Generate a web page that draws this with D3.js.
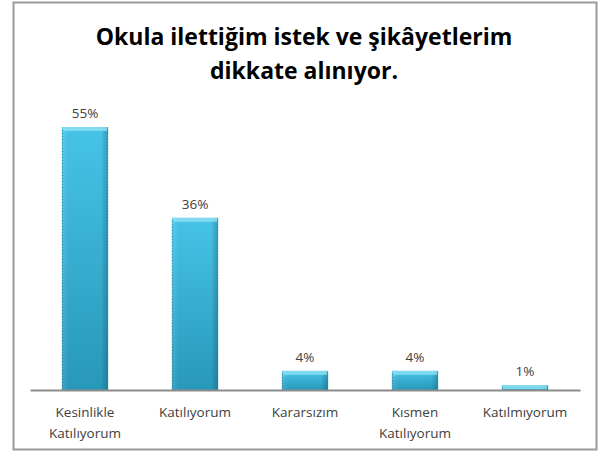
<!DOCTYPE html>
<html><head><meta charset="utf-8">
<script src="https://cdn.jsdelivr.net/npm/d3@7/dist/d3.min.js"></script>
<style>body{margin:0;background:#fff}svg{display:block}text{font-variant-ligatures:none}</style>
</head><body>
<script>
const categories = [["Kesinlikle","Katılıyorum"],["Katılıyorum"],["Kararsızım"],["Kısmen","Katılıyorum"],["Katılmıyorum"]];
const values = [55, 36, 4, 4, 1];
const valueLabels = ["55%","36%","4%","4%","1%"];
const titleLines = ["Okula ilettiğim istek ve şikâyetlerim","dikkate alınıyor."];

const W = 598, H = 452;
const svg = d3.select("body").append("svg").attr("width", W).attr("height", H);
const defs = svg.append("defs");
const g1 = defs.append("linearGradient").attr("id","barV").attr("x1",0).attr("y1",0).attr("x2",0).attr("y2",1);
g1.append("stop").attr("offset","0%").attr("stop-color","#46c3e7");
g1.append("stop").attr("offset","100%").attr("stop-color","#2898b9");
const g2 = defs.append("linearGradient").attr("id","barH").attr("x1",0).attr("y1",0).attr("x2",1).attr("y2",0);
g2.append("stop").attr("offset","0%").attr("stop-color","#ffffff").attr("stop-opacity",0.12);
g2.append("stop").attr("offset","15%").attr("stop-color","#ffffff").attr("stop-opacity",0.0);
g2.append("stop").attr("offset","85%").attr("stop-color","#000000").attr("stop-opacity",0.0);
g2.append("stop").attr("offset","100%").attr("stop-color","#003040").attr("stop-opacity",0.25);

svg.append("rect").attr("x",13.5).attr("y",2.5).attr("width",583).attr("height",447)
  .attr("fill","#fff").attr("stroke","#9a9a9a").attr("stroke-width",2);

const font = "'Open Sans', sans-serif";
svg.append("g").selectAll("text").data(titleLines).join("text")
  .attr("x", 304).attr("y",(d,i)=>45 + i*34).attr("text-anchor","middle")
  .attr("font-family",font).attr("font-weight","bold").attr("font-size",23).attr("fill","#000")
  .text(d=>d);

const x = d3.scaleBand().domain(d3.range(values.length)).range([30,580]).paddingInner(0.58).paddingOuter(0.29);
const y = d3.scaleLinear().domain([0,55]).range([390,127]);

const bars = svg.append("g").selectAll("g").data(values).join("g");
bars.append("rect").attr("x",(d,i)=>x(i)).attr("y",d=>y(d)).attr("width",x.bandwidth())
  .attr("height",d=>390-y(d)).attr("fill","url(#barV)");
bars.append("rect").attr("x",(d,i)=>x(i)).attr("y",d=>y(d)).attr("width",x.bandwidth())
  .attr("height",d=>390-y(d)).attr("fill","url(#barH)");
bars.append("rect").attr("x",(d,i)=>x(i)+1).attr("y",d=>y(d)).attr("width",x.bandwidth()-2)
  .attr("height",d=>Math.min(4, 390-y(d))).attr("fill","#8fe1f4").attr("opacity",0.8);
bars.append("line").attr("x1",(d,i)=>x(i)+0.5).attr("x2",(d,i)=>x(i)+0.5)
  .attr("y1",d=>y(d)+3).attr("y2",390).attr("stroke","#2a7f98").attr("stroke-dasharray","1,2");
bars.append("line").attr("x1",(d,i)=>x(i)+x.bandwidth()-0.5).attr("x2",(d,i)=>x(i)+x.bandwidth()-0.5)
  .attr("y1",d=>y(d)+3).attr("y2",390).attr("stroke","#2a7f98").attr("stroke-dasharray","1,2");

svg.append("g").selectAll("text").data(values).join("text")
  .attr("x",(d,i)=>x(i)+x.bandwidth()/2).attr("y",d=>y(d)-9).attr("text-anchor","middle")
  .attr("font-family",font).attr("font-size",13.5).attr("fill","#404040")
  .text((d,i)=>valueLabels[i]);

const axis = d3.axisBottom(x).tickSize(0).tickFormat("");
const ax = svg.append("g").attr("transform","translate(0,390)").call(axis);
ax.select(".domain").attr("stroke","#8c8c8c").attr("stroke-width",2);

const cl = svg.append("g").selectAll("text").data(categories).join("text")
  .attr("x",(d,i)=>x(i)+x.bandwidth()/2).attr("y",417).attr("text-anchor","middle")
  .attr("font-family",font).attr("font-size",13.5).attr("fill","#404040");
cl.selectAll("tspan").data(d=>d).join("tspan")
  .attr("x",function(){return this.parentNode.getAttribute("x");})
  .attr("dy",(d,i)=>i?21:0).text(d=>d);
</script>
</body></html>
